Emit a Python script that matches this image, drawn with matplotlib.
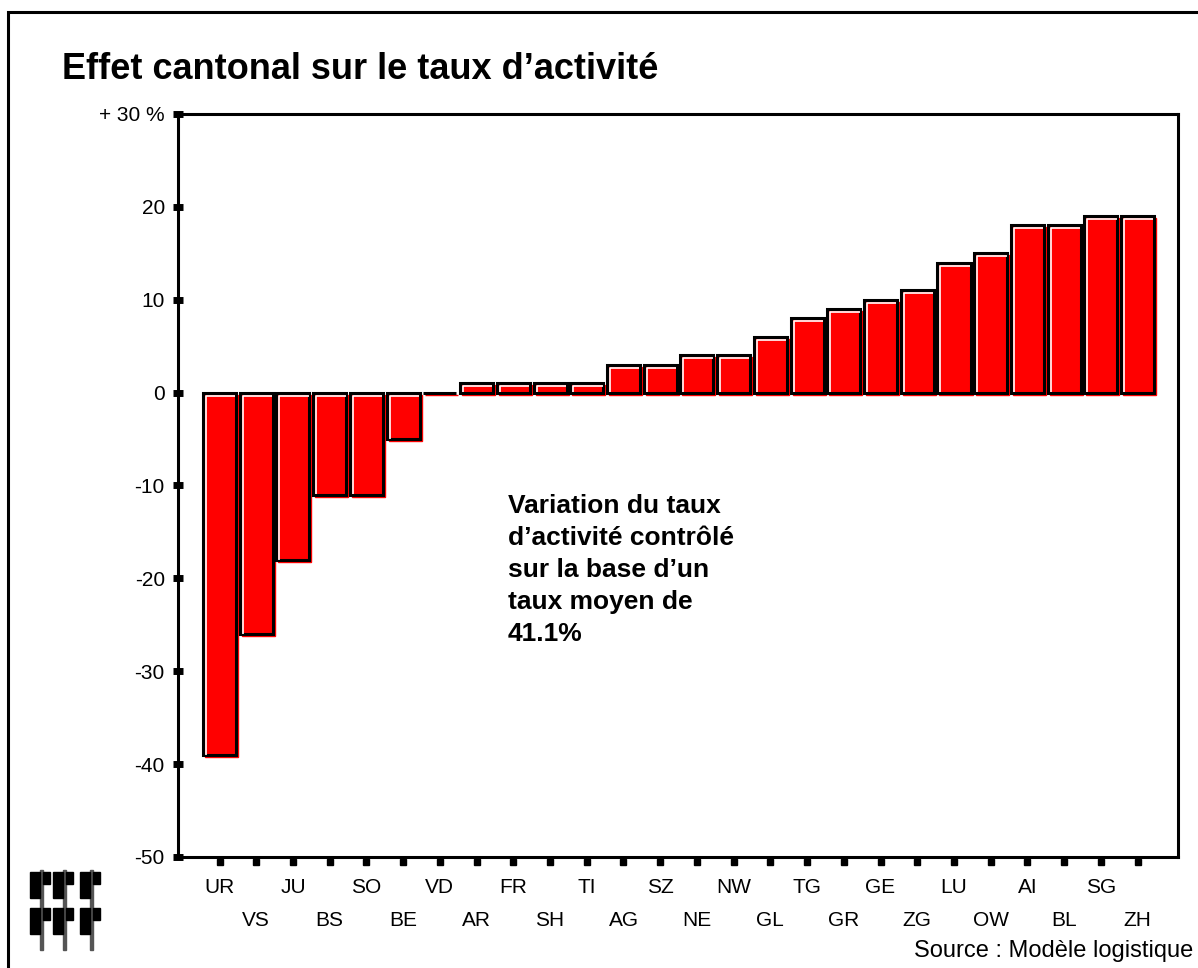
import numpy as np
import matplotlib
matplotlib.use('Agg')
import matplotlib.pyplot as plt
import matplotlib.transforms as mtransforms
from matplotlib.patches import Rectangle

plt.rcParams['font.family'] = ['Liberation Sans', 'DejaVu Sans']

# Données
cantons = ['UR', 'VS', 'JU', 'BS', 'SO', 'BE', 'VD', 'AR', 'FR', 'SH', 'TI', 'AG', 'SZ',
           'NE', 'NW', 'GL', 'TG', 'GR', 'GE', 'ZG', 'LU', 'OW', 'AI', 'BL', 'SG', 'ZH']
effet = [-39, -26, -18, -11, -11, -5, 0, 1, 1, 1, 1, 3, 3,
         4, 4, 6, 8, 9, 10, 11, 14, 15, 18, 18, 19, 19]
yticks = [30, 20, 10, 0, -10, -20, -30, -40, -50]
ylabels = ['+ 30 %', '20', '10', '0', '-10', '-20', '-30', '-40', '-50']

x = np.arange(len(cantons))
width = 0.9

fig = plt.figure(figsize=(11.98, 9.68), dpi=100)
ax = fig.add_axes([0.1486, 0.1147, 0.8347, 0.7676])

# ombre rouge décalée
shadow = mtransforms.offset_copy(ax.transData, fig=fig, x=2, y=-2, units='dots')
ax.bar(x, effet, width, color='red', edgecolor='red', linewidth=1, transform=shadow, zorder=1)
# barres principales
ax.bar(x, effet, width, color='red', edgecolor='black', linewidth=2.2, zorder=2)

# reflet blanc en haut et à gauche
hl = mtransforms.offset_copy(ax.transData, fig=fig, x=3, y=-3, units='dots')
for xi, v in zip(x, effet):
    if v == 0:
        continue
    x0, x1 = xi - width / 2, xi + width / 2
    lo, hi = min(v, 0), max(v, 0)
    ax.plot([x0, x0, x1 - 0.1], [lo + 0.35, hi, hi], color='white', lw=1.2,
            transform=hl, zorder=3, solid_capstyle='butt')

ax.set_xlim(-1.13, 26.1)
ax.set_ylim(-50, 30)

for s in ax.spines.values():
    s.set_linewidth(2.2)

ax.set_yticks(yticks)
ax.set_yticklabels(ylabels)
ax.tick_params(axis='y', direction='inout', length=7, width=5, pad=6, labelsize=15)

# étiquettes sur deux rangées
ax.set_xticks(x[::2])
ax.set_xticklabels(cantons[::2])
ax.set_xticks(x[1::2], minor=True)
ax.set_xticklabels(cantons[1::2], minor=True)
ax.tick_params(axis='x', which='major', length=0, pad=15, labelsize=15)
ax.tick_params(axis='x', which='minor', length=0, pad=39, labelsize=15)

# petits carrés sous l'axe
ax.plot(x, np.full(len(x), -0.007), 's', color='black', markersize=4.5,
        transform=ax.get_xaxis_transform(), clip_on=False)

fig.text(0.052, 0.928, "Effet cantonal sur le taux d\u2019activité", fontsize=26,
         fontweight='bold', ha='left', va='center')

ax.text(0.33, 0.488, "Variation du taux\nd\u2019activité contrôlé\nsur la base d\u2019un\ntaux moyen de\n41.1%",
        transform=ax.transAxes, fontsize=19, fontweight='bold', ha='left', va='top', linespacing=1.41)

fig.text(0.996, 0.018, "Source : Modèle logistique", fontsize=17, ha='right', va='center')

# cadre extérieur
fig.patches.append(Rectangle((8 / 1198, -0.05), 1.1, 0.05 + (968 - 12) / 968, transform=fig.transFigure,
                             fill=False, edgecolor='black', linewidth=2.2))

# logo (approximatif)
for lx in [40, 63, 90]:
    fig.patches.append(Rectangle((lx / 1198, (968 - 950) / 968), 3 / 1198, 80 / 968,
                                 transform=fig.transFigure, color='#555555'))
    for by in [872, 908]:
        fig.patches.append(Rectangle(((lx - 10) / 1198, (968 - by - 26) / 968), 10 / 1198, 26 / 968,
                                     transform=fig.transFigure, color='black'))
        fig.patches.append(Rectangle(((lx + 3) / 1198, (968 - by - 12) / 968), 7 / 1198, 12 / 968,
                                     transform=fig.transFigure, color='black'))

fig.savefig('out.png', dpi=100)
